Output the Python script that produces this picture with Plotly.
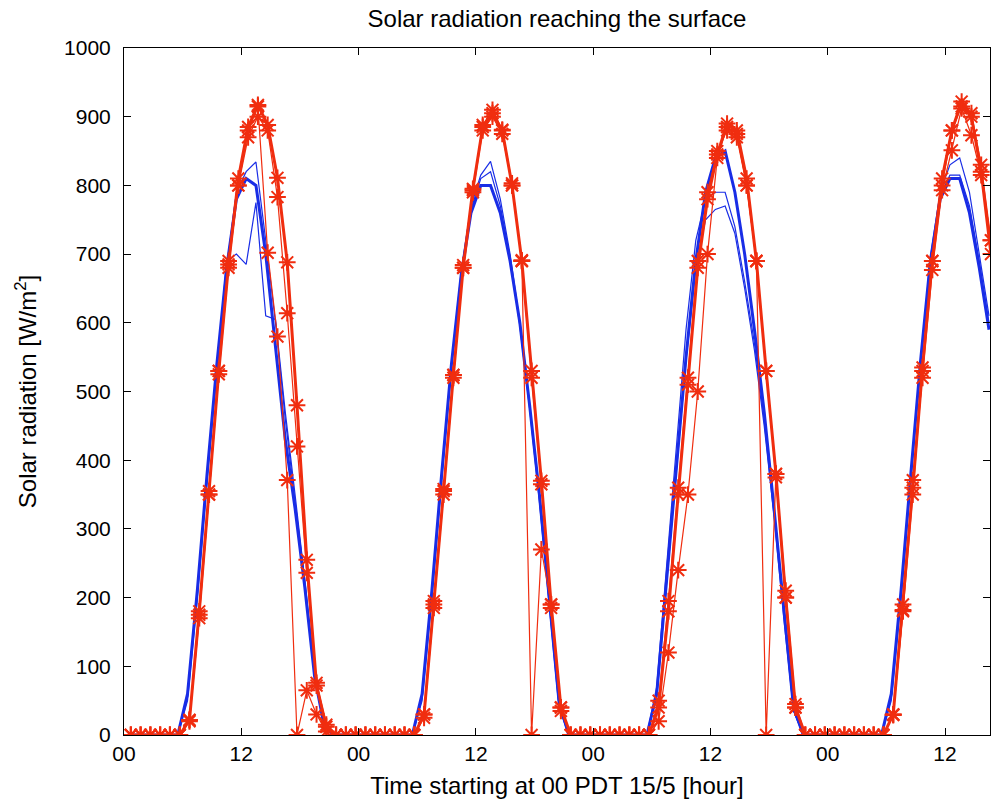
import plotly.graph_objects as go

# hourly samples; reds at k+0.7 h, blues at k+0.5 h (k = 0..88)
hours_red = [k + 0.7 for k in range(89)]
hours_blue = [k + 0.5 for k in range(89)]

red_thick = [0, 0, 0, 0, 0, 0,
             22, 180, 355, 530, 685, 810, 885, 917, 888, 811, 688, 480, 255, 72, 12,
             0, 0, 0, 0, 0, 0, 0, 0, 0,
             30, 190, 355, 524, 680, 795, 885, 905, 880, 800, 690, 530, 370, 190, 40,
             0, 0, 0, 0, 0, 0, 0, 0, 0,
             40, 180, 350, 510, 680, 780, 845, 890, 880, 810, 690, 530, 380, 200, 40,
             0, 0, 0, 0, 0, 0, 0, 0, 0,
             30, 190, 360, 535, 690, 810, 880, 922, 900, 820, 700]

red_thin_a = [0, 0, 0, 0, 0, 0,
              22, 175, 350, 525, 680, 800, 880, 915, 702, 580, 371, 0, 65, 30, 5,
              0, 0, 0, 0, 0, 0, 0, 0, 0,
              30, 195, 358, 524, 684, 793, 888, 910, 881, 803, 691, 0, 270, 190, 40,
              0, 0, 0, 0, 0, 0, 0, 0, 0,
              50, 195, 360, 520, 690, 790, 850, 880, 870, 800, 690, 0, 380, 210, 45,
              0, 0, 0, 0, 0, 0, 0, 0, 0,
              29, 182, 371, 520, 677, 793, 851, 912, 873, 815, 720]

red_thin_b = [0, 0, 0, 0, 0, 0,
              20, 170, 350, 530, 690, 800, 870, 900, 880, 783, 614, 420, 236, 76, 15,
              0, 0, 0, 0, 0, 0, 0, 0, 0,
              25, 185, 350, 520, 680, 790, 880, 900, 875, 800, 690, 520, 365, 185, 35,
              0, 0, 0, 0, 0, 0, 0, 0, 0,
              20, 120, 240, 350, 500, 700, 840, 885, 875, 800, 690, 530, 375, 200, 40,
              0, 0, 0, 0, 0, 0, 0, 0, 0,
              30, 180, 350, 530, 690, 800, 880, 915, 905, 830, 720]

blue_thick = [0, 0, 0, 0, 0, 0,
              60, 210, 380, 540, 680, 780, 810, 800, 700, 560, 430, 330, 215, 85, 12,
              0, 0, 0, 0, 0, 0, 0, 0, 0,
              60, 210, 380, 540, 670, 760, 800, 800, 760, 690, 600, 480, 350, 200, 50,
              0, 0, 0, 0, 0, 0, 0, 0, 0,
              60, 220, 390, 550, 690, 790, 840, 850, 790, 700, 590, 470, 330, 180, 40,
              0, 0, 0, 0, 0, 0, 0, 0, 0,
              60, 210, 380, 545, 690, 780, 810, 810, 760, 680, 590]

blue_thin_a = [0, 0, 0, 0, 0, 0,
               55, 205, 375, 535, 680, 790, 820, 834, 720, 600, 460, 340, 220, 85, 10,
               0, 0, 0, 0, 0, 0, 0, 0, 0,
               55, 205, 375, 540, 675, 770, 815, 835, 780, 700, 600, 480, 345, 195, 45,
               0, 0, 0, 0, 0, 0, 0, 0, 0,
               70, 240, 420, 590, 720, 780, 790, 790, 740, 660, 570, 460, 325, 175, 35,
               0, 0, 0, 0, 0, 0, 0, 0, 0,
               55, 205, 375, 545, 695, 790, 830, 840, 790, 700, 610]

blue_thin_b = [0, 0, 0, 0, 0, 0,
               50, 200, 370, 530, 690, 700, 685, 775, 610, 605, 470, 350, 225, 90, 10,
               0, 0, 0, 0, 0, 0, 0, 0, 0,
               50, 200, 370, 535, 670, 765, 810, 820, 770, 695, 595, 475, 340, 190, 40,
               0, 0, 0, 0, 0, 0, 0, 0, 0,
               55, 215, 385, 545, 680, 750, 765, 770, 730, 650, 560, 450, 320, 170, 35,
               0, 0, 0, 0, 0, 0, 0, 0, 0,
               50, 200, 370, 540, 690, 785, 815, 815, 770, 690, 600]

tick_hours = [0, 12, 24, 36, 48, 60, 72, 84]
tick_text = ["00", "12", "00", "12", "00", "12", "00", "12"]

RED = "rgb(240,45,15)"
BLUE = "rgb(25,45,230)"
FONT = "Liberation Sans"

fig = go.Figure()
for ys, w in [(blue_thin_a, 1.2), (blue_thin_b, 1.2), (blue_thick, 3)]:
    fig.add_trace(go.Scatter(x=hours_blue, y=ys, mode="lines",
                             line=dict(color=BLUE, width=w), showlegend=False))
for ys, w in [(red_thin_a, 1.2), (red_thin_b, 1.2), (red_thick, 3)]:
    fig.add_trace(go.Scatter(x=hours_red, y=ys, mode="lines+markers",
                             line=dict(color=RED, width=w),
                             marker=dict(symbol="asterisk-open", size=14,
                                         line=dict(color=RED, width=2)),
                             showlegend=False))

axis_common = dict(showline=True, linecolor="black", linewidth=1, mirror="ticks",
                   ticks="inside", ticklen=7, tickcolor="black", showgrid=False,
                   zeroline=False, tickfont=dict(family=FONT, size=21, color="black"))

fig.update_layout(
    width=993, height=808,
    margin=dict(l=124, r=3, t=48, b=73),
    paper_bgcolor="white", plot_bgcolor="white",
    title=dict(text="Solar radiation reaching the surface", x=0.5, xref="paper",
               xanchor="center", y=1 - 19 / 808, yanchor="middle",
               font=dict(family=FONT, size=24, color="black")),
    xaxis=dict(range=[0, 88.6], tickvals=tick_hours, ticktext=tick_text,
               ticklabelstandoff=0,
               title=dict(text="Time starting at 00 PDT 15/5 [hour]",
                          font=dict(family=FONT, size=24, color="black"), standoff=12),
               **axis_common),
    yaxis=dict(range=[0, 1000], dtick=100, ticklabelstandoff=8,
               title=dict(text="Solar radiation [W/m<sup>2</sup>]",
                          font=dict(family=FONT, size=24, color="black"), standoff=20),
               **axis_common),
)

fig.write_html("out.html")
